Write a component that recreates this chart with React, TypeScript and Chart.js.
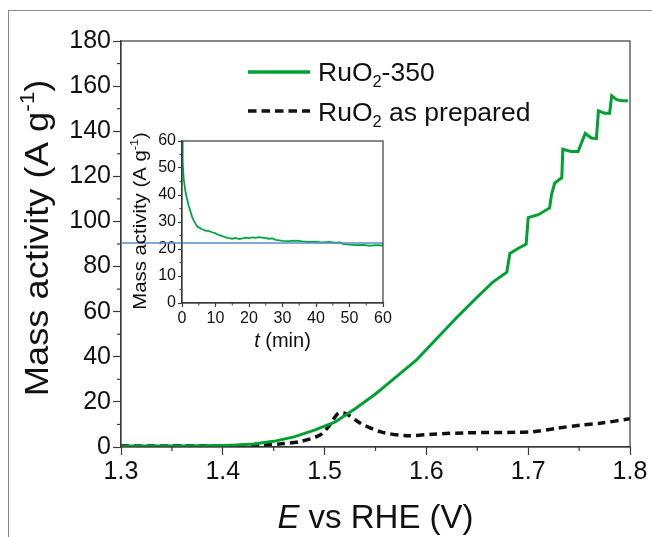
import React, { useEffect, useRef } from 'react';
import { Chart, registerables } from 'chart.js';

Chart.register(...registerables);

const FONT = "'Liberation Sans', Arial, Helvetica, sans-serif";

// ---- main chart data ----
const potential350 = [1.30, 1.34, 1.38, 1.41, 1.43, 1.45, 1.47, 1.49, 1.51, 1.53, 1.55, 1.57, 1.59, 1.61, 1.63, 1.65, 1.665, 1.679, 1.682, 1.69, 1.698, 1.700, 1.71, 1.721, 1.723, 1.726, 1.733, 1.734, 1.742, 1.749, 1.756, 1.762, 1.767, 1.769, 1.775, 1.780, 1.782, 1.787, 1.792, 1.798];
const activity350 = [0.4, 0.4, 0.5, 0.8, 1.3, 2.5, 4.5, 7.5, 11, 17, 23.5, 31, 38.5, 48, 57.5, 66.5, 73, 77.5, 85.8, 88, 90, 101.7, 103, 106, 112, 117, 119.4, 132, 131, 131, 139, 137, 136.7, 149, 148, 148, 155.7, 154, 153.5, 153.5];
const potentialPrep = [1.30, 1.35, 1.40, 1.44, 1.46, 1.476, 1.4955, 1.505, 1.5135, 1.5217, 1.535, 1.5545, 1.5807, 1.6067, 1.6396, 1.6887, 1.705, 1.728, 1.751, 1.7705, 1.80];
const activityPrep = [0.5, 0.5, 0.6, 0.9, 1.5, 2.4, 5.3, 9.7, 15, 14.6, 10.6, 6.8, 5.0, 5.7, 6.3, 6.5, 6.8, 8.3, 9.7, 10.5, 12.5];
const mainXRange = [1.3, 1.8];
const mainXStep = 0.1;
const mainYRange = [0, 180];
const mainYStep = 20;

// ---- inset data ----
const insetTime = [0, 0.2, 0.5, 1, 1.5, 2, 2.5, 3, 3.5, 4, 4.5, 5, 6, 7, 8, 9, 10, 11, 12, 13, 14, 15, 16, 17, 18, 19, 20, 21, 22, 23, 24, 25, 26, 27, 28, 29, 30, 32, 34, 36, 38, 40, 42, 44, 46, 47, 48, 50, 52, 54, 56, 58, 60];
const insetActivity = [60, 52, 46, 41.5, 38.5, 36, 34, 32, 30.5, 29.5, 28.5, 28, 27.3, 26.8, 26.6, 26.2, 25.8, 25.2, 24.8, 24.3, 24.0, 23.8, 24.1, 23.7, 23.9, 24.2, 24.0, 24.3, 24.1, 24.4, 24.2, 24.0, 23.8, 23.9, 23.4, 23.2, 23.0, 22.9, 23.1, 22.8, 22.6, 22.7, 22.4, 22.6, 22.3, 22.5, 21.9, 21.6, 21.4, 21.5, 21.2, 21.4, 21.3];
const insetReference = 22.2;
const insetXRange = [0, 60];
const insetYRange = [0, 60];
const insetStep = 10;

const GREEN = '#00a032';
const AXIS = '#3a3a3a';

type Part = { t: string; sub?: boolean; sup?: boolean; italic?: boolean };

function drawRich(ctx: CanvasRenderingContext2D, parts: Part[], x: number, y: number, size: number, align: 'left' | 'center', stretch = 1) {
  const fontFor = (p: Part) => {
    const s = p.sub || p.sup ? size * 0.62 : size;
    return `${p.italic ? 'italic ' : ''}${s}px ${FONT}`;
  };
  let total = 0;
  for (const p of parts) {
    ctx.font = fontFor(p);
    total += ctx.measureText(p.t).width;
  }
  ctx.save();
  ctx.translate(x, y);
  ctx.scale(stretch, 1);
  let cx = align === 'center' ? -total / 2 : 0;
  ctx.textBaseline = 'alphabetic';
  ctx.textAlign = 'left';
  for (const p of parts) {
    ctx.font = fontFor(p);
    let dy = 0;
    if (p.sub) dy = size * 0.22;
    if (p.sup) dy = -size * 0.42;
    ctx.fillText(p.t, cx, dy);
    cx += ctx.measureText(p.t).width;
  }
  ctx.restore();
}

const framePlugin = {
  id: 'frame',
  afterDraw(chart: any, _a: any, opts: any) {
    const { ctx, chartArea: a, scales } = chart;
    ctx.save();
    ctx.strokeStyle = opts.color;
    ctx.lineWidth = opts.width;
    ctx.strokeRect(a.left, a.top, a.right - a.left, a.bottom - a.top);
    // minor ticks
    ctx.lineWidth = opts.tickWidth;
    const xs = scales.x, ys = scales.y;
    const xt = xs.ticks.map((t: any) => t.value);
    for (let i = 0; i < xt.length - 1; i++) {
      const p = xs.getPixelForValue((xt[i] + xt[i + 1]) / 2);
      ctx.beginPath();
      ctx.moveTo(p, a.bottom);
      ctx.lineTo(p, a.bottom + opts.minorLength);
      ctx.stroke();
    }
    const yt = ys.ticks.map((t: any) => t.value);
    for (let i = 0; i < yt.length - 1; i++) {
      const p = ys.getPixelForValue((yt[i] + yt[i + 1]) / 2);
      ctx.beginPath();
      ctx.moveTo(a.left, p);
      ctx.lineTo(a.left - opts.minorLength, p);
      ctx.stroke();
    }
    ctx.restore();
  },
};

const mainTextPlugin = {
  id: 'mainText',
  afterDraw(chart: any) {
    const { ctx, chartArea: a } = chart;
    ctx.save();
    ctx.fillStyle = '#111';
    // y title
    ctx.save();
    ctx.translate(48, 238);
    ctx.rotate(-Math.PI / 2);
    drawRich(ctx, [{ t: 'Mass activity (A g' }, { t: '-1', sup: true }, { t: ')' }], 0, 0, 33, 'center', 1.1);
    ctx.restore();
    // x title
    drawRich(ctx, [{ t: 'E', italic: true }, { t: ' vs RHE (V)' }], (a.left + a.right) / 2, 528, 33, 'center');
    // legend
    const lx0 = 248, lx1 = 310, tx = 318;
    ctx.strokeStyle = GREEN;
    ctx.lineWidth = 3.5;
    ctx.beginPath();
    ctx.moveTo(lx0, 72);
    ctx.lineTo(lx1, 72);
    ctx.stroke();
    drawRich(ctx, [{ t: 'RuO' }, { t: '2', sub: true }, { t: '-350' }], tx, 81, 26.5, 'left');
    ctx.strokeStyle = '#111';
    ctx.setLineDash([8.5, 5]);
    ctx.beginPath();
    ctx.moveTo(lx0, 111);
    ctx.lineTo(lx1, 111);
    ctx.stroke();
    ctx.setLineDash([]);
    drawRich(ctx, [{ t: 'RuO' }, { t: '2', sub: true }, { t: ' as prepared' }], tx, 121, 26.5, 'left');
    ctx.restore();
  },
};

const insetTextPlugin = {
  id: 'insetText',
  afterDatasetsDraw(chart: any, _a: any, opts: any) {
    const { ctx, chartArea: a, scales } = chart;
    ctx.save();
    // reference line extending to the left edge of the inset canvas
    const y = scales.y.getPixelForValue(opts.reference);
    ctx.strokeStyle = '#5b8ec4';
    ctx.lineWidth = 1.5;
    ctx.beginPath();
    ctx.moveTo(0, y);
    ctx.lineTo(a.right, y);
    ctx.stroke();
    ctx.restore();
  },
  afterDraw(chart: any) {
    const { ctx, chartArea: a } = chart;
    ctx.save();
    ctx.fillStyle = '#111';
    ctx.save();
    ctx.translate(24, (a.top + a.bottom) / 2 - 1);
    ctx.rotate(-Math.PI / 2);
    drawRich(ctx, [{ t: 'Mass activity (A g' }, { t: '-1', sup: true }, { t: ')' }], 0, 0, 18.5, 'center', 1.1);
    ctx.restore();
    drawRich(ctx, [{ t: 't', italic: true }, { t: ' (min)' }], (a.left + a.right) / 2, 221, 20, 'center');
    ctx.restore();
  },
};

function axisCommon(size: number, tickLen: number) {
  return {
    grid: { display: true, drawOnChartArea: false, drawTicks: true, tickLength: tickLen, tickWidth: 1.2, tickColor: AXIS },
    border: { display: true, color: AXIS, width: 1.2 },
    ticks: { font: { family: FONT, size }, color: '#111', padding: 2, autoSkip: false, maxRotation: 0 },
  };
}

export default function App() {
  const mainRef = useRef<HTMLCanvasElement>(null);
  const insetRef = useRef<HTMLCanvasElement>(null);

  useEffect(() => {
    const mc = axisCommon(25, 8);
    const main = new Chart(mainRef.current!, {
      type: 'line',
      data: {
        datasets: [
          {
            label: 'RuO2-350',
            data: potential350.map((x, i) => ({ x, y: activity350[i] })),
            borderColor: GREEN,
            borderWidth: 3,
            pointRadius: 0,
            tension: 0,
          },
          {
            label: 'RuO2 as prepared',
            data: potentialPrep.map((x, i) => ({ x, y: activityPrep[i] })),
            borderColor: '#111',
            borderWidth: 3.5,
            borderDash: [8, 5],
            pointRadius: 0,
            tension: 0.3,
          },
        ],
      },
      options: {
        animation: false,
        responsive: false,
        maintainAspectRatio: false,
        layout: { padding: { top: 41, right: 22, left: 0, bottom: 0 } },
        plugins: { legend: { display: false }, tooltip: { enabled: false }, frame: { color: AXIS, width: 1.2, tickWidth: 1.2, minorLength: 4 } } as any,
        scales: {
          x: {
            type: 'linear',
            min: mainXRange[0],
            max: mainXRange[1],
            ...mc,
            ticks: { ...mc.ticks, stepSize: mainXStep, callback: (v: any) => Number(v).toFixed(1) },
            afterFit: (s: any) => { s.height = 90; },
          },
          y: {
            type: 'linear',
            min: mainYRange[0],
            max: mainYRange[1],
            ...mc,
            ticks: { ...mc.ticks, stepSize: mainYStep },
            afterFit: (s: any) => { s.width = 121; },
          },
        },
      } as any,
      plugins: [framePlugin, mainTextPlugin],
    });

    const ic = axisCommon(16, 4);
    const inset = new Chart(insetRef.current!, {
      type: 'line',
      data: {
        datasets: [
          {
            label: 'inset',
            data: insetTime.map((x, i) => ({ x, y: insetActivity[i] })),
            borderColor: '#00a645',
            borderWidth: 1.8,
            pointRadius: 0,
            tension: 0,
          },
        ],
      },
      options: {
        animation: false,
        responsive: false,
        maintainAspectRatio: false,
        layout: { padding: { top: 15, right: 19, left: 0, bottom: 0 } },
        plugins: { legend: { display: false }, tooltip: { enabled: false }, frame: { color: AXIS, width: 1.2, tickWidth: 1, minorLength: 2.5 }, insetText: { reference: insetReference } } as any,
        scales: {
          x: {
            type: 'linear',
            min: insetXRange[0],
            max: insetXRange[1],
            ...ic,
            ticks: { ...ic.ticks, stepSize: insetStep },
            afterFit: (s: any) => { s.height = 63; },
          },
          y: {
            type: 'linear',
            min: insetYRange[0],
            max: insetYRange[1],
            ...ic,
            ticks: { ...ic.ticks, stepSize: insetStep },
            afterFit: (s: any) => { s.width = 60; },
          },
        },
      } as any,
      plugins: [framePlugin, insetTextPlugin],
    });

    return () => {
      main.destroy();
      inset.destroy();
    };
  }, []);

  return (
    <div style={{ position: 'fixed', left: 0, top: 0, width: 652, height: 537, background: '#fff', overflow: 'hidden' }}>
      <div style={{ position: 'absolute', left: 8, top: 10, right: 0, height: 0, borderTop: '1.5px solid #8a8a8a' }} />
      <div style={{ position: 'absolute', left: 8, top: 10, bottom: 0, width: 0, borderLeft: '1.5px solid #8a8a8a' }} />
      <canvas ref={mainRef} width={652} height={537} style={{ position: 'absolute', left: 0, top: 0 }} />
      <canvas ref={insetRef} width={280} height={240} style={{ position: 'absolute', left: 122, top: 126 }} />
    </div>
  );
}
